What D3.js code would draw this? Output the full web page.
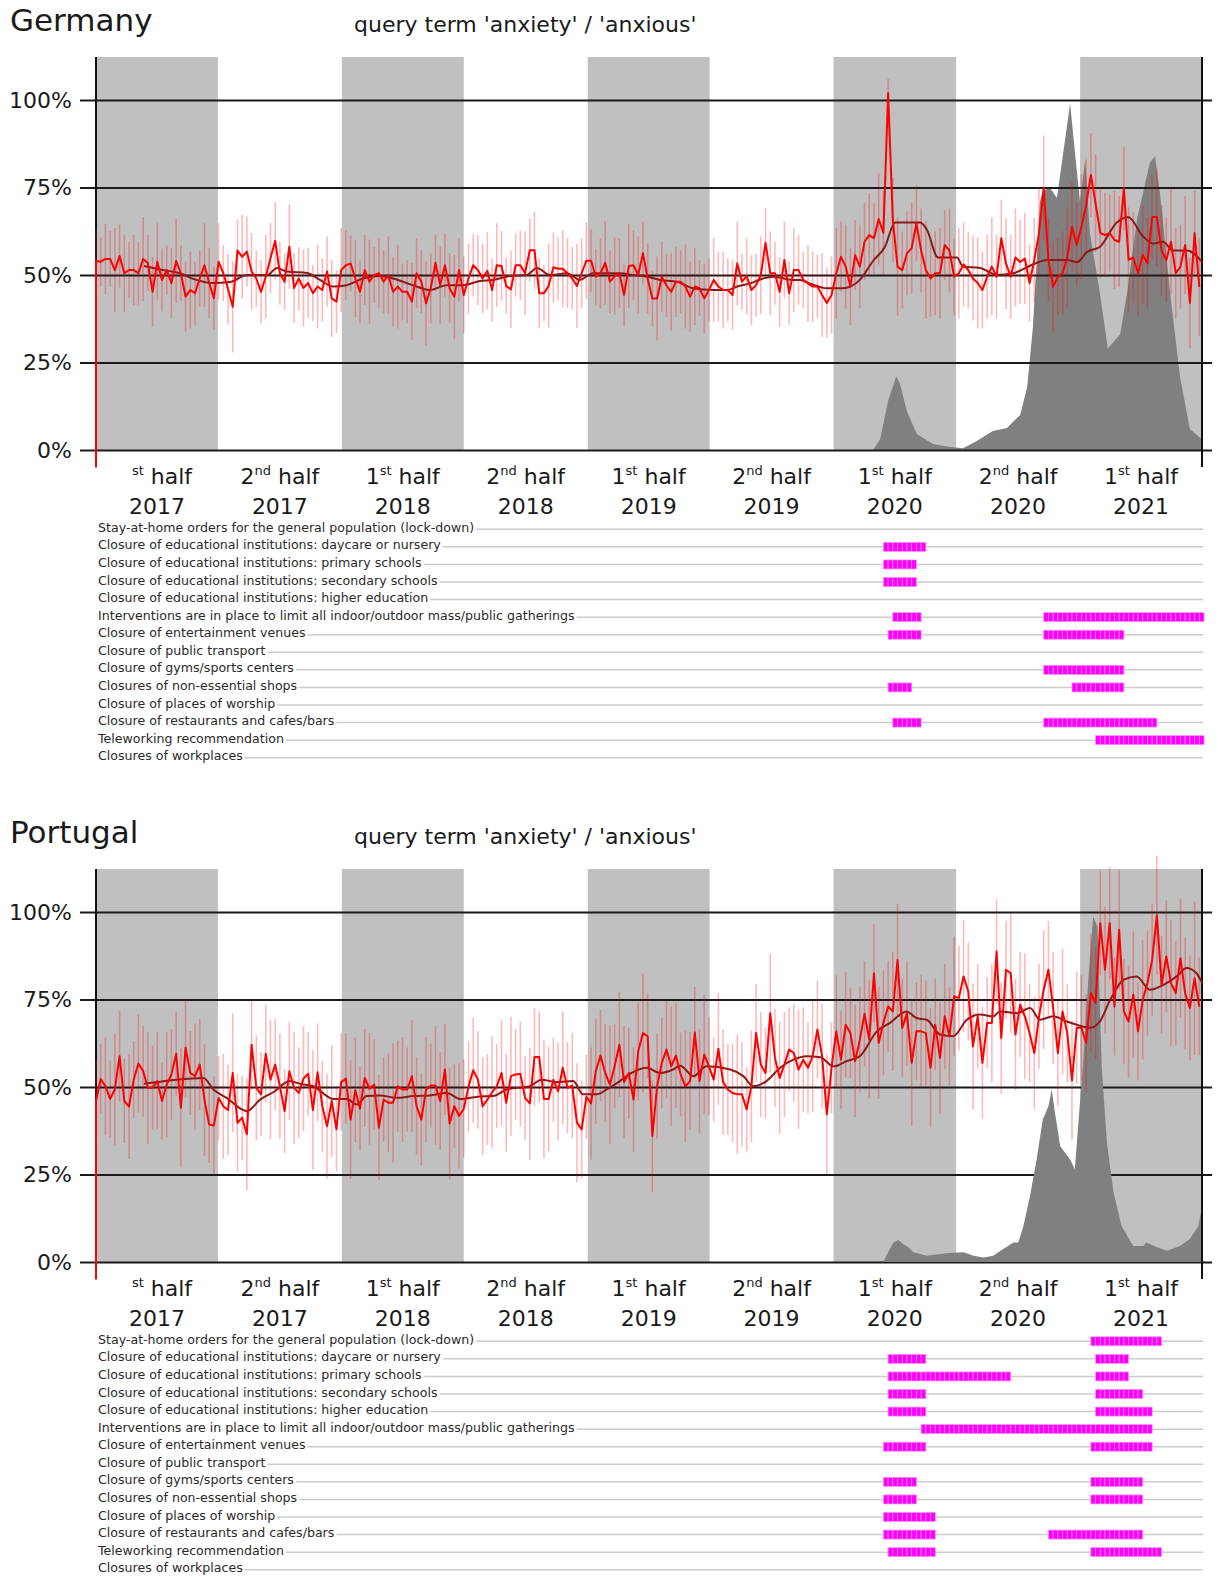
<!DOCTYPE html>
<head>
<meta charset="utf-8">
<title>Anxiety queries</title>
<script type="text/javascript" src="https://d3js.org/d3.v7.min.js"></script>
<style>
  body { margin: 0; background: #fff; }
  text { font-family: "DejaVu Sans", Verdana, sans-serif; fill: #1a1a1a; }
</style>
</head>
<body>
<div id="my_dataviz"></div>
<script>

// ---- data (weekly, week 0 = first week of Jan 2017) ----
var halfStarts = ["2017-01-01","2017-07-01","2018-01-01","2018-07-01","2019-01-01","2019-07-01","2020-01-01","2020-07-01","2021-01-01","2021-07-01"];
var halfNum = ["", "2", "1", "2", "1", "2", "1", "2", "1"];
var halfSup = ["st", "nd", "st", "nd", "st", "nd", "st", "nd", "st"];
var halfYear = ["2017","2017","2018","2018","2019","2019","2020","2020","2021"];
var yTicks = [0, 25, 50, 75, 100];

var measures = [
  "Stay-at-home orders for the general population (lock-down)",
  "Closure of educational institutions: daycare or nursery",
  "Closure of educational institutions: primary schools",
  "Closure of educational institutions: secondary schools",
  "Closure of educational institutions: higher education",
  "Interventions are in place to limit all indoor/outdoor mass/public gatherings",
  "Closure of entertainment venues",
  "Closure of public transport",
  "Closure of gyms/sports centers",
  "Closures of non-essential shops",
  "Closure of places of worship",
  "Closure of restaurants and cafes/bars",
  "Teleworking recommendation",
  "Closures of workplaces"
];

// Germany
var deVals = [
  54,53.8,54.6,54.6,51.4,55.4,50.5,51.4,51.4,50.5, 54.6,53.4,45.2,53.8,48.6,51.4,47.7,54,50.5,43.8,
  45.7,44.8,49,52.8,47.7,43.4,53.8,50.5,46,40.9, 57,55.2,56.7,51,49,45.2,49.5,54.8,59.8,50.5,
  48.1,58.1,46.3,49,46.3,47.7,44.8,46.7,45.7,51, 43.3,42.4,51.4,52.8,53.3,49,45.2,51.4,48.1,50,
  50.5,48.1,50,45.2,46.7,45.2,45.2,42.4,50.5,48.1, 41.9,46.2,53.5,47.1,52.8,46.2,43.8,51.4,44.3,49,
  52.8,51.4,
  49,51.2,45.7,52.8,52.6,46.9,45.9,52.8,52.8,50.5, 57.1,57.1,44.8,44.8,46.9,52.2,51.8,51.8,50.5,49,
  46.9,50.5,54.1,54.1,49.5,50.5,53.5,48.1,49.7,50.5, 44.3,52.6,52.8,50,56.2,49,43.3,43.3,49.5,47,
  45.2,48.1,48.1,46.7,43.8,46.7,46.2,43.3,45.7,48.6, 46.7,45.7,45.7,44.3,53.3,48.1,49.7,45.7,47.1,50,
  59.2,50.5,50.5,45.2,54.3,44.8,51.4,51.4,48.6,47.6, 46.7,46.7,44.3,42,44.3,50.5,55.2,52.4,46.7,55.7,
  52.4,
  59.5,61.4,60.5,66,62,102,65.7,52.4,51.4,56.2, 57.7,64.8,57,51.4,49,50.5,50.5,58.6,57,49.5,
  50.5,53,51.4,49,47.7,45.7,49.5,52.4,49.5,60.5, 53.3,49.5,55,53.7,54.7,47.7,54.3,62,74.8,54.3,
  46.6,49.5,50.5,55,63.8,58.6,63.8,70,78.6,70.5, 62,61.4,62,60,59.5,74.8,54.3,55,50.5,55.7,
  53.3,66.6,66.6,57,54.3,59.5,50.5,52.4,58.6,42, 62,46.6
];
var deErr = [
  9,7,10,8,12,9,11,8,10,9, 12,8,10,11,9,7,10,12,8,10, 11,9,8,12,10,9,11,8,10,13, 9,12,10,11,8,9,12,10,11,9,
  8,12,10,9,11,10,8,12,9,10, 11,9,12,10,8,11,9,10,12,8, 10,9,11,10,12,8,9,11,10,9, 12,10,8,11,9,10,12,9,11,10,
  9,10,
  10,11,9,12,10,8,11,9,10,12, 9,11,10,8,12,10,9,11,10,9, 12,10,11,9,8,10,12,9,11,10, 9,12,10,11,9,10,8,12,10,9,
  11,10,9,12,10,11,8,10,9,12, 10,11,9,10,12,8,11,10,9,11, 10,12,9,10,11,9,12,10,8,11, 10,9,12,10,11,13,10,12,11,10,
  12,
  11,12,10,13,12,4,12,14,11,12, 13,11,12,14,11,12,13,10,12,11, 13,12,11,12,13,11,12,14,12,11, 13,12,14,12,13,11,12,13,15,12,
  13,11,12,14,13,12,15,13,12,14, 13,12,11,14,13,12,15,13,12,14, 13,12,14,13,12,15,13,12,14,13, 12,14
];
var deMaWeek = [10.2,14.2,17.8,20.6,24.8,28.4,32,36.3,38.4,40.5,44.8,47.5,50.3,53.2,56.6,60.2,63,67.2,70.8,74.4,77.8,81.4,
  84.2,87.8,91.4,93.5,96.3,99.9,102.6,105.4,108.4,111.1,113.9,116.9,119.6,123.2,126.6,130.9,133.8,136,138.7,141.5,143.6,
  147.8,149.3,151.4,155,158.4,162,164.8,167.3,169.5,172,174.8,176.2,178.6,182.6,183.9,187.5,191.1,194.5,198.7,201.7,
  205.9,208.1,210.2,212.9,216.5,218.9,222.1,224.2,226.3,228.4,231.4,234.6];
var deMaVal = [52.6,51.4,50.5,48.9,47.7,48,50,50,52,51,50.6,48.6,46.7,47.1,49,49.7,49,47.1,45.7,47.1,47.1,48.3,
  48.6,49.7,50,52,50,50.5,48.6,50.5,50.5,50.5,50,49.5,48.6,48.1,46.2,45.7,45.7,46.7,47.6,49,49.5,
  48.6,48.6,47.6,46.2,46.2,48.6,54,58,65,65,65,63,55,55,52.4,52,50,50.5,53,54.3,
  54.3,53.7,56.6,58,65,66.6,61,59,59.5,57,57,53.7];
var deCaseWeek = [164.8,166.3,168,169.7,170.5,172,174.1,177.5,180.5,183.9,186.8,190.2,193.2,196,197.5,198.7,200.2,200.8,
  202.3,203.8,206.6,208,208.7,209.8,210.8,212.9,214.6,217.2,218.7,220.8,223.5,224.6,225.7,227.8,229.9,232,234.6];
var deCaseVal = [0,3,14,21,19,11,4.6,1.7,1,0.5,2.6,5.4,6.3,10,18,35,71,74,
  75,72,99,80,71,83,62,45,29,33,45,66,82,84,73,45,21,6,3];
// [row, first week, end week]
var deMeasures = [[1,167,176],[2,167,174],[3,167,174],[5,169,175],[5,201,235],[6,168,175],[6,201,218],
  [8,201,218],[9,168,173],[9,207,218],[11,169,175],[11,201,225],[12,212,235]];

// Portugal
var ptVals = [
  46,52.3,50.2,46.6,49.3,58.8,46,44.4,52.1,56.7, 54.5,49.8,49.8,51.7,46,50.7,53.6,59.5,44.1,61.2,
  54,53.1,56.4,46.4,39.3,39,46.9,44.5,43.4,54, 39.8,41.2,36.5,62.1,49.8,47.9,59.5,52.1,56.4,50.2,
  43.1,54.5,49.8,48.3,52.4,53.8,43.4,54.2,44.5,38.8, 46,37.9,51.4,52.4,40.7,49.1,43.8,52.6,49.5,50.7,
  38.4,46.4,45.5,45.5,50.2,49.3,49.3,53.1,44.5,40.7, 49.3,50.4,50.4,46,55,39.6,44.5,41.7,43.8,50.1,
  54.8,52.1,
  44.5,46.4,48.5,50.2,54,45.5,53.1,53.6,53.8,46.9, 45.3,58.6,58.6,46.6,46.6,52.1,48.8,55.5,49.8,50.4,
  39.8,37.9,47.2,45.3,54.5,59,54,50.7,55.9,62.1, 51.4,54,46.4,60.2,65.4,64.5,36,50.2,56.9,60.7,
  55.9,59,53.6,50.2,51.7,65.6,51.7,59.3,55.9,52.1, 60.9,51.4,49.3,48.3,47.9,47.9,43.6,50.2,65.4,56.4,
  54,71.1,58.3,52.6,56.4,60.7,59.7,55,57.8,55.5, 58.8,66.4,58.8,42.2,55.5,65.9,57.8,67.8,65.4,57.4,
  63.5,
  70.9,63.5,82.5,62.6,68.3,73,71.6,86.3,66.9,71.1, 56.9,65.9,65.9,65.4,55.5,67.8,58.3,70.2,64.5,75.9,
  75.4,81.6,77.3,61.6,70.2,56.9,68.3,68.3,88.7,64, 83.5,82.5,65,73.5,70.2,65.4,59.7,70.2,77.8,83.5,
  72.6,59.7,71.6,65.4,51.9,66.9,66.9,62.6,76.8,74, 96.8,83.5,96.8,73,94.9,71.6,68.7,76.4,65.9,74.9,
  79.7,86.3,99.1,79.2,87.3,79.7,76.8,86.8,76.8,72.6, 81.1,73
];
var ptErr = [
  12,10,14,11,16,13,12,15,11,14, 13,16,12,14,11,15,13,12,17,14, 12,15,13,16,11,14,12,15,13,17, 14,12,16,13,15,12,14,17,13,15,
  12,14,16,13,15,12,17,14,13,15, 16,12,14,13,17,15,12,14,16,13, 15,12,14,17,13,15,12,16,14,13, 15,12,17,14,13,16,12,15,14,13,
  15,14,
  14,13,16,12,15,14,17,13,15,12, 16,14,13,17,15,12,14,16,13,15, 17,14,12,16,15,13,14,17,12,15, 16,13,15,14,17,12,16,15,13,14,
  17,15,12,16,14,13,15,17,14,12, 16,15,13,14,17,15,12,16,14,15, 13,17,14,16,15,12,14,17,15,13, 16,14,15,17,13,16,14,15,13,16,
  15,
  15,17,14,16,15,13,17,16,14,15, 18,14,16,15,17,13,16,15,14,17, 15,16,14,18,15,16,13,17,15,16, 14,17,16,15,18,14,16,15,17,14,
  16,15,18,14,17,16,15,14,17,16, 15,18,16,14,17,15,16,18,14,17, 15,16,17,14,16,18,15,17,16,15, 22,14
];
var ptMaWeek = [10.2,12.9,17.1,22.8,24.9,27.7,32,34.8,37.6,41.1,43.3,46.1,50.3,53.2,55.3,57.4,60.2,63.8,67.3,70.8,74.4,77.2,
  81.4,84.2,87.1,92,94.5,97.7,101.2,103.3,106.2,108.3,111.1,113.3,116.8,119.6,122.4,123.9,126.7,129.5,134.5,137.3,139.4,
  142.2,145.1,147.9,150.7,153.6,156.4,159.2,162,165.6,168.4,171.9,174,176.2,179,181.8,184.7,187.5,190.3,191.7,195.3,
  198.1,200.2,203,205.9,208,210.8,212.9,215.1,217.9,220.7,223.5,226.4,229.2,231.3,233.4,234.6];
var ptMaVal = [50.9,51.4,52.1,52.6,49.3,46.9,43.1,46.4,48.5,51.7,50.9,50.2,46.6,46.6,45,47.4,47.6,46.9,47.4,47.6,48.3,46.6,
  47.3,47.4,49.3,50.2,52.1,51.4,51.7,47.9,47.9,49.3,51.7,53.8,55.5,54,55,56.1,53.1,55.9,55,53.1,50.2,
  51.7,55.5,57.8,58.8,58.5,55.9,57.4,58.8,65.9,68.3,71.6,69.7,69.2,65,64.5,69.2,70.7,70.2,71.6,71.1,
  72.6,69.2,70.2,68.7,67.8,66.9,68.7,74.9,80.6,81.6,77.8,79.2,81.6,84,82.5,79.7];
var ptCaseWeek = [167,168,169.1,170.2,171.2,172.3,173.3,174.8,176.2,179,181.1,184,186.1,188.2,190.3,192.4,194.6,195.6,196.7,
  198.1,199.5,200.8,202,202.7,203.4,204.5,205.5,206.6,207.6,208.3,209.4,210.5,211.5,212.4,213.3,214.4,215.8,217.5,
  220,222.1,222.8,225,227.1,229.9,232,233.8,234.6];
var ptCaseVal = [0,2.8,5.6,6.3,5.1,4.2,2.8,2.3,1.8,2.3,2.6,2.8,1.8,1.3,1.8,3.7,5.6,5.6,10.3,
  18.9,29.3,40.7,44.5,49.3,42.6,33.1,31.3,29.3,26.5,38.8,57.8,81.6,98.7,95.8,55.9,34.1,19.9,10.3,
  4.6,4.6,5.6,4.2,3.2,4.6,6.6,10.3,16];
var ptMeasures = [[0,211,226],[1,168,176],[1,212,219],[2,168,194],[2,212,219],[3,168,176],[3,212,222],
  [4,168,176],[4,212,224],[5,175,224],[6,167,176],[6,211,224],[8,167,174],[8,211,222],[9,167,174],[9,211,222],
  [10,167,178],[11,167,178],[11,202,222],[12,168,178],[12,211,226]];

// ---- layout ----
var W = 1218, H = 1577;
var svg = d3.select("#my_dataviz").append("svg")
    .attr("width", W).attr("height", H);

var parse = d3.utcParse("%Y-%m-%d");
var t0 = parse(halfStarts[0]);
var t1 = parse(halfStarts[halfStarts.length - 1]);
var x = d3.scaleUtc().domain([t0, t1]).range([96, 1202]);
function wk(w) { return new Date(t0.getTime() + w * 7 * 864e5); }

function panel(oy, country, vals, errs, maW, maV, caseW, caseV, periods, gridOnTop) {
  var g = svg.append("g").attr("transform", "translate(0," + oy + ")");
  var y = d3.scaleLinear().domain([0, 100]).range([450, 100]);
  var top = 57;

  g.append("text").attr("x", 10).attr("y", 31)
    .style("font-size", "31px").text(country);
  g.append("text").attr("x", 354).attr("y", 32)
    .style("font-size", "22px").text("query term 'anxiety' / 'anxious'");

  // half-year shading
  for (var i = 0; i < halfStarts.length - 1; i++) {
    if (i % 2 == 0) {
      var a = x(parse(halfStarts[i])), b = x(parse(halfStarts[i + 1]));
      g.append("rect").attr("x", a).attr("y", top)
        .attr("width", b - a).attr("height", y(0) - top)
        .attr("fill", "#c0c0c0");
    }
  }

  var gridLayer = g.append("g");
  var caseLayer = g.append("g");
  if (gridOnTop) gridLayer.raise();

  // case curve
  var cases = caseW.map(function(w, i) { return {w: w, v: caseV[i]}; });
  caseLayer.append("path").datum(cases)
    .attr("fill", "#808080")
    .attr("d", d3.area()
      .x(function(d) { return x(wk(d.w)); })
      .y0(y(0))
      .y1(function(d) { return y(d.v); }));

  // grid + y labels
  var yAxis = gridLayer.append("g").attr("transform", "translate(80,0)")
    .call(d3.axisLeft(y).tickValues(yTicks).tickSize(-1132).tickPadding(8)
      .tickFormat(function(d) { return d + "%"; }));
  yAxis.select(".domain").remove();
  yAxis.selectAll("line").attr("stroke", "#1a1a1a").attr("stroke-width", 2);
  yAxis.selectAll("text").style("font-size", "22px")
    .style("font-family", "DejaVu Sans, Verdana, sans-serif").attr("fill", "#1a1a1a");

  // axes lines
  g.append("line").attr("x1", x(t0)).attr("x2", x(t0)).attr("y1", top).attr("y2", y(0) + 17)
    .attr("stroke", "#111").attr("stroke-width", 2);
  g.append("line").attr("x1", x(t1)).attr("x2", x(t1)).attr("y1", top).attr("y2", y(0) + 17)
    .attr("stroke", "#111").attr("stroke-width", 2);

  var pts = vals.map(function(v, i) { return {w: i, v: v, e: errs[i]}; });

  // error bars
  g.selectAll(".err").data(pts).enter().append("line")
    .attr("x1", function(d) { return x(wk(d.w)); })
    .attr("x2", function(d) { return x(wk(d.w)); })
    .attr("y1", function(d) { return y(d.v - d.e); })
    .attr("y2", function(d) { return y(d.v + d.e); })
    .attr("stroke", "#ff0000").attr("stroke-opacity", 0.28).attr("stroke-width", 1.6);

  // moving average
  var ma = maW.map(function(w, i) { return {w: w, v: maV[i]}; });
  g.append("path").datum(ma)
    .attr("fill", "none").attr("stroke", "#8b1a1a").attr("stroke-width", 2)
    .attr("d", d3.line().curve(d3.curveMonotoneX)
      .x(function(d) { return x(wk(d.w)); })
      .y(function(d) { return y(d.v); }));

  // weekly series (starts from below the baseline)
  g.append("path").datum([{w: 0, v: -5}].concat(pts))
    .attr("fill", "none").attr("stroke", "#ff0000").attr("stroke-width", 2)
    .attr("stroke-linejoin", "round")
    .attr("d", d3.line()
      .x(function(d) { return x(wk(d.w)); })
      .y(function(d) { return y(d.v); }));

  // x labels
  for (var i = 0; i < halfStarts.length - 1; i++) {
    var cx = (x(parse(halfStarts[i])) + x(parse(halfStarts[i + 1]))) / 2;
    if (i == 0) cx += 5;
    var t = g.append("text").attr("x", cx).attr("y", 484)
      .attr("text-anchor", "middle").style("font-size", "22px");
    t.append("tspan").text(halfNum[i]);
    t.append("tspan").style("font-size", "13px").attr("dy", -9).text(halfSup[i]);
    t.append("tspan").attr("dy", 9).text(" half");
    g.append("text").attr("x", cx - (i == 0 ? 5 : 0)).attr("y", 514)
      .attr("text-anchor", "middle").style("font-size", "22px").text(halfYear[i]);
  }

  // interventions
  var ry = d3.scalePoint().domain(d3.range(measures.length)).range([529.3, 529.3 + 13 * 17.57]);
  var labs = g.selectAll(".lab").data(measures).enter().append("text")
    .attr("x", 98).attr("y", function(d, i) { return ry(i) + 2.5; })
    .style("font-size", "12.6px").style("fill", "#2a2a2a")
    .text(function(d) { return d; });
  // row guide starts where the label ends
  labs.each(function(d, i) {
    var end = 98 + this.getComputedTextLength() + 2;
    g.insert("line", "text")
      .attr("x1", end).attr("x2", 1203)
      .attr("y1", ry(i)).attr("y2", ry(i))
      .attr("stroke", "#cccccc").attr("stroke-width", 1.5);
  });

  var cells = [];
  periods.forEach(function(p) {
    d3.range(p[1], p[2]).forEach(function(w) { cells.push({row: p[0], w: w}); });
  });
  g.selectAll(".cell").data(cells).enter().append("rect")
    .attr("x", function(d) { return x(wk(d.w)); })
    .attr("width", function(d) { return x(wk(d.w + 1)) - x(wk(d.w)); })
    .attr("y", function(d) { return ry(d.row) - 4.5; })
    .attr("height", 9)
    .attr("fill", "#ff00ff").attr("stroke", "#ff8cff").attr("stroke-width", 0.7);
}

panel(0, "Germany", deVals, deErr, deMaWeek, deMaVal, deCaseWeek, deCaseVal, deMeasures, true);
panel(812, "Portugal", ptVals, ptErr, ptMaWeek, ptMaVal, ptCaseWeek, ptCaseVal, ptMeasures, false);

</script>
</body>
